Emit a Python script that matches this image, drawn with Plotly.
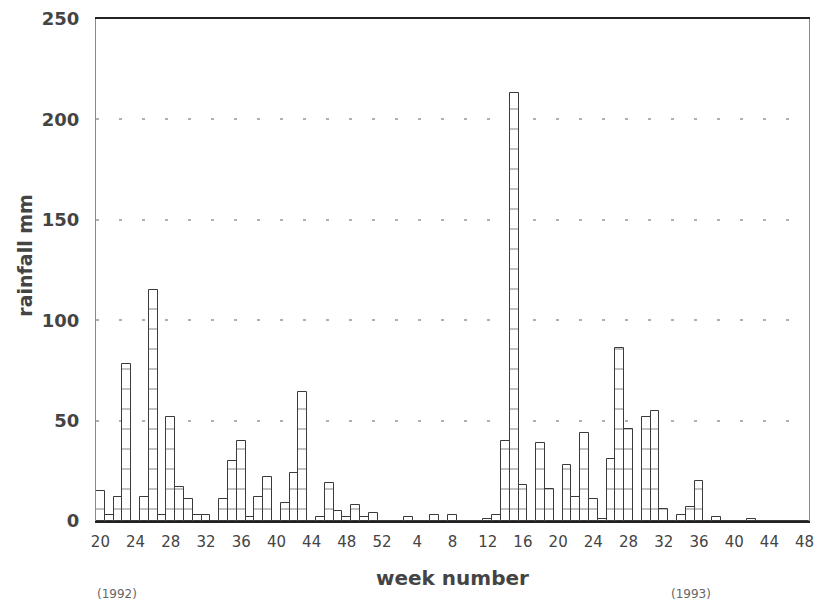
import plotly.graph_objects as go

# Weekly rainfall (mm), 1992 weeks 20-52 and 1993 weeks 1-48
weeks_1992 = list(range(20, 53))
rain_1992 = [15, 3, 12, 78, 0, 12, 115, 3, 52, 17, 11, 3, 3, 0, 11, 30, 40, 2, 12, 22,
             0, 9, 24, 64, 0, 2, 19, 5, 2, 8, 2, 4, 0]
weeks_1993 = list(range(1, 49))
rain_1993 = [0, 0, 2, 0, 0, 3, 0, 3, 0, 0, 0, 1, 3, 40, 213, 18, 0, 39, 16, 0,
             28, 12, 44, 11, 1, 31, 86, 46, 0, 52, 55, 6, 0, 3, 7, 20, 0, 2, 0, 0,
             0, 1, 0, 0, 0, 0, 0, 0]

tick_weeks = [20, 24, 28, 32, 36, 40, 44, 48, 52, 4, 8, 12, 16, 20, 24, 28, 32, 36, 40, 44, 48]
y_ticks = [0, 50, 100, 150, 200, 250]

week_labels = [f"1992-{w}" for w in weeks_1992] + [f"1993-{w}" for w in weeks_1993]
rain = rain_1992 + rain_1993
idx = list(range(len(rain)))

# positions of the week tick labels along the running week index
tick_pos = []
year, prev = 1992, None
for w in tick_weeks:
    if prev is not None and w < prev:
        year = 1993
    key = f"{year}-{w}"
    tick_pos.append(week_labels.index(key))
    prev = w

ink = "#3a3a3a"
fig = go.Figure()
fig.add_trace(go.Bar(
    x=idx, y=rain, width=1.0,
    marker=dict(
        color="white",
        line=dict(color=ink, width=1),
        pattern=dict(shape="-", size=20, solidity=0.08, fgcolor="#666", bgcolor="white"),
    ),
    hovertext=week_labels,
))

fig.update_layout(
    width=822, height=605,
    margin=dict(l=96, r=8, t=17, b=84),
    paper_bgcolor="white", plot_bgcolor="white",
    showlegend=False, bargap=0,
    font=dict(family="DejaVu Sans", color="#444"),
)
fig.update_xaxes(
    range=[-0.5, len(rain) - 0.5],
    tickmode="array", tickvals=tick_pos, ticktext=[str(w) for w in tick_weeks],
    tickfont=dict(family="DejaVu Sans", size=15, color="#444"),
    ticks="", ticklabelstandoff=6,
    showline=True, linecolor="#222", linewidth=2, mirror=True,
    showgrid=False, zeroline=False,
)
fig.update_yaxes(
    range=[0, 250],
    tickmode="array", tickvals=y_ticks,
    tickfont=dict(family="DejaVu Sans", size=18, color="#444", weight="bold"),
    ticks="", ticklabelstandoff=12,
    showline=True, linecolor="#8a8a8a", linewidth=1.2, mirror=True,
    showgrid=True, gridcolor="#b0b0b0", gridwidth=2, griddash="3px,20px",
    zeroline=False,
)

fig.add_annotation(
    text="rainfall mm", textangle=-90,
    xref="paper", yref="paper", x=-0.1, y=0.53,
    xanchor="center", yanchor="middle", showarrow=False,
    font=dict(family="DejaVu Sans", size=19, color="#444", weight="bold"),
)
fig.add_annotation(
    text="week number",
    xref="paper", yref="paper", x=0.5, y=-0.113,
    xanchor="center", yanchor="middle", showarrow=False,
    font=dict(family="DejaVu Sans", size=20, color="#444", weight="bold"),
)
fig.add_annotation(
    text="(1992)", xref="paper", yref="paper", x=0.03, y=-0.145,
    xanchor="center", yanchor="middle", showarrow=False,
    font=dict(family="DejaVu Sans", size=12, color="#666"),
)
fig.add_annotation(
    text="(1993)", xref="paper", yref="paper", x=0.835, y=-0.145,
    xanchor="center", yanchor="middle", showarrow=False,
    font=dict(family="DejaVu Sans", size=12, color="#666"),
)

fig.write_html("out.html")
